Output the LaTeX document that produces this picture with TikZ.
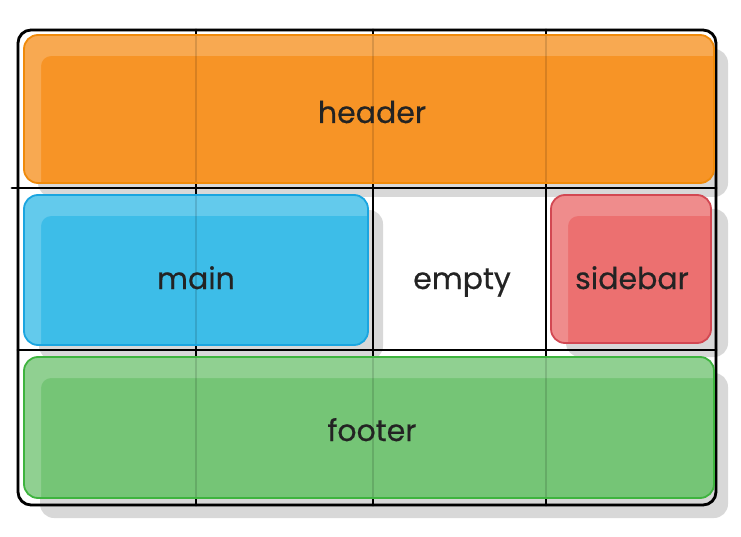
\documentclass[tikz,border=0pt]{standalone}
\usepackage{fontspec}
\setmainfont{Poppins}
\newfontfamily\lblfont{Poppins}[FakeBold=0.5]
\begin{document}
\begin{tikzpicture}[x=1pt,y=-1pt,
  lbl/.style={anchor=base,inner sep=0pt,text=txt,font=\lblfont\fontsize{30}{36}\selectfont},
  gridline/.style={draw=black,line width=2.8pt,line cap=round},
  shadowbox/.style={fill=shade,rounded corners=14pt},
  boxborder/.style={line width=1.8pt,rounded corners=14pt}]
\definecolor{txt}{RGB}{35,35,35}
\definecolor{shade}{RGB}{216,216,216}
\definecolor{orgF}{RGB}{247,148,38}\definecolor{orgD}{RGB}{240,138,10}
\definecolor{bluF}{RGB}{61,189,232}\definecolor{bluD}{RGB}{26,165,224}
\definecolor{redF}{RGB}{236,112,112}\definecolor{redD}{RGB}{210,72,82}
\definecolor{grnF}{RGB}{117,197,118}\definecolor{grnD}{RGB}{62,180,62}
\useasboundingbox (0,0) rectangle (741,537);
% shadows
\fill[shadowbox] (38,49) rectangle (728,197);
\fill[shadowbox] (39,210) rectangle (383,360);
\fill[shadowbox] (566,209) rectangle (728,357);
\fill[shadowbox] (40,373) rectangle (728,518);
% grid
\coordinate (gtl) at (18,30);
\coordinate (gbr) at (716,505);
\coordinate (h1l) at (12,188); \coordinate (h1r) at (716,188);
\coordinate (h2l) at (18,350); \coordinate (h2r) at (716,350);
\coordinate (v1t) at (196,30); \coordinate (v1b) at (196,505);
\coordinate (v2t) at (373,30); \coordinate (v2b) at (373,505);
\coordinate (v3t) at (546,30); \coordinate (v3b) at (546,505);
\newcommand\gridlines[1]{%
  \draw[gridline,#1,rounded corners=13pt] (gtl) rectangle (gbr);
  \draw[gridline,#1] (h1l) -- (h1r);
  \draw[gridline,#1] (h2l) -- (h2r);
  \draw[gridline,#1] (v1t) -- (v1b);
  \draw[gridline,#1] (v2t) -- (v2b);
  \draw[gridline,#1] (v3t) -- (v3b);}
\gridlines{}
% boxes
\newcommand\glossbox[5]{% x1,y1,x2,y2,fill
  \fill[#5,rounded corners=14pt] (#1,#2) rectangle (#3,#4);
  \begin{scope}
    \clip[rounded corners=14pt] (#1,#2) rectangle (#3,#4);
    \fill[white,opacity=.2,even odd rule] (#1-5,#2-5) rectangle (#3+5,#4+5)
      [rounded corners=10pt] (#1+17,#2+21) rectangle (#3+60,#4+60);
  \end{scope}}
\glossbox{24}{35}{714}{183}{orgF}
\glossbox{24}{195}{368}{345}{bluF}
\glossbox{551}{195}{711}{343}{redF}
\glossbox{24}{357}{714}{498}{grnF}
% grid seen through boxes
\gridlines{opacity=.13}
\draw[boxborder,orgD] (24,35) rectangle (714,183);
\draw[boxborder,bluD] (24,195) rectangle (368,345);
\draw[boxborder,redD] (551,195) rectangle (711,343);
\draw[boxborder,grnD] (24,357) rectangle (714,498);
% labels
\node[lbl] (header) at (372,123) {header};
\node[lbl] (main) at (196,289) {main};
\node[lbl] (empty) at (462,289) {empty};
\node[lbl] (sidebar) at (632,289) {sidebar};
\node[lbl] (footer) at (372,441) {footer};
\end{tikzpicture}
\end{document}
